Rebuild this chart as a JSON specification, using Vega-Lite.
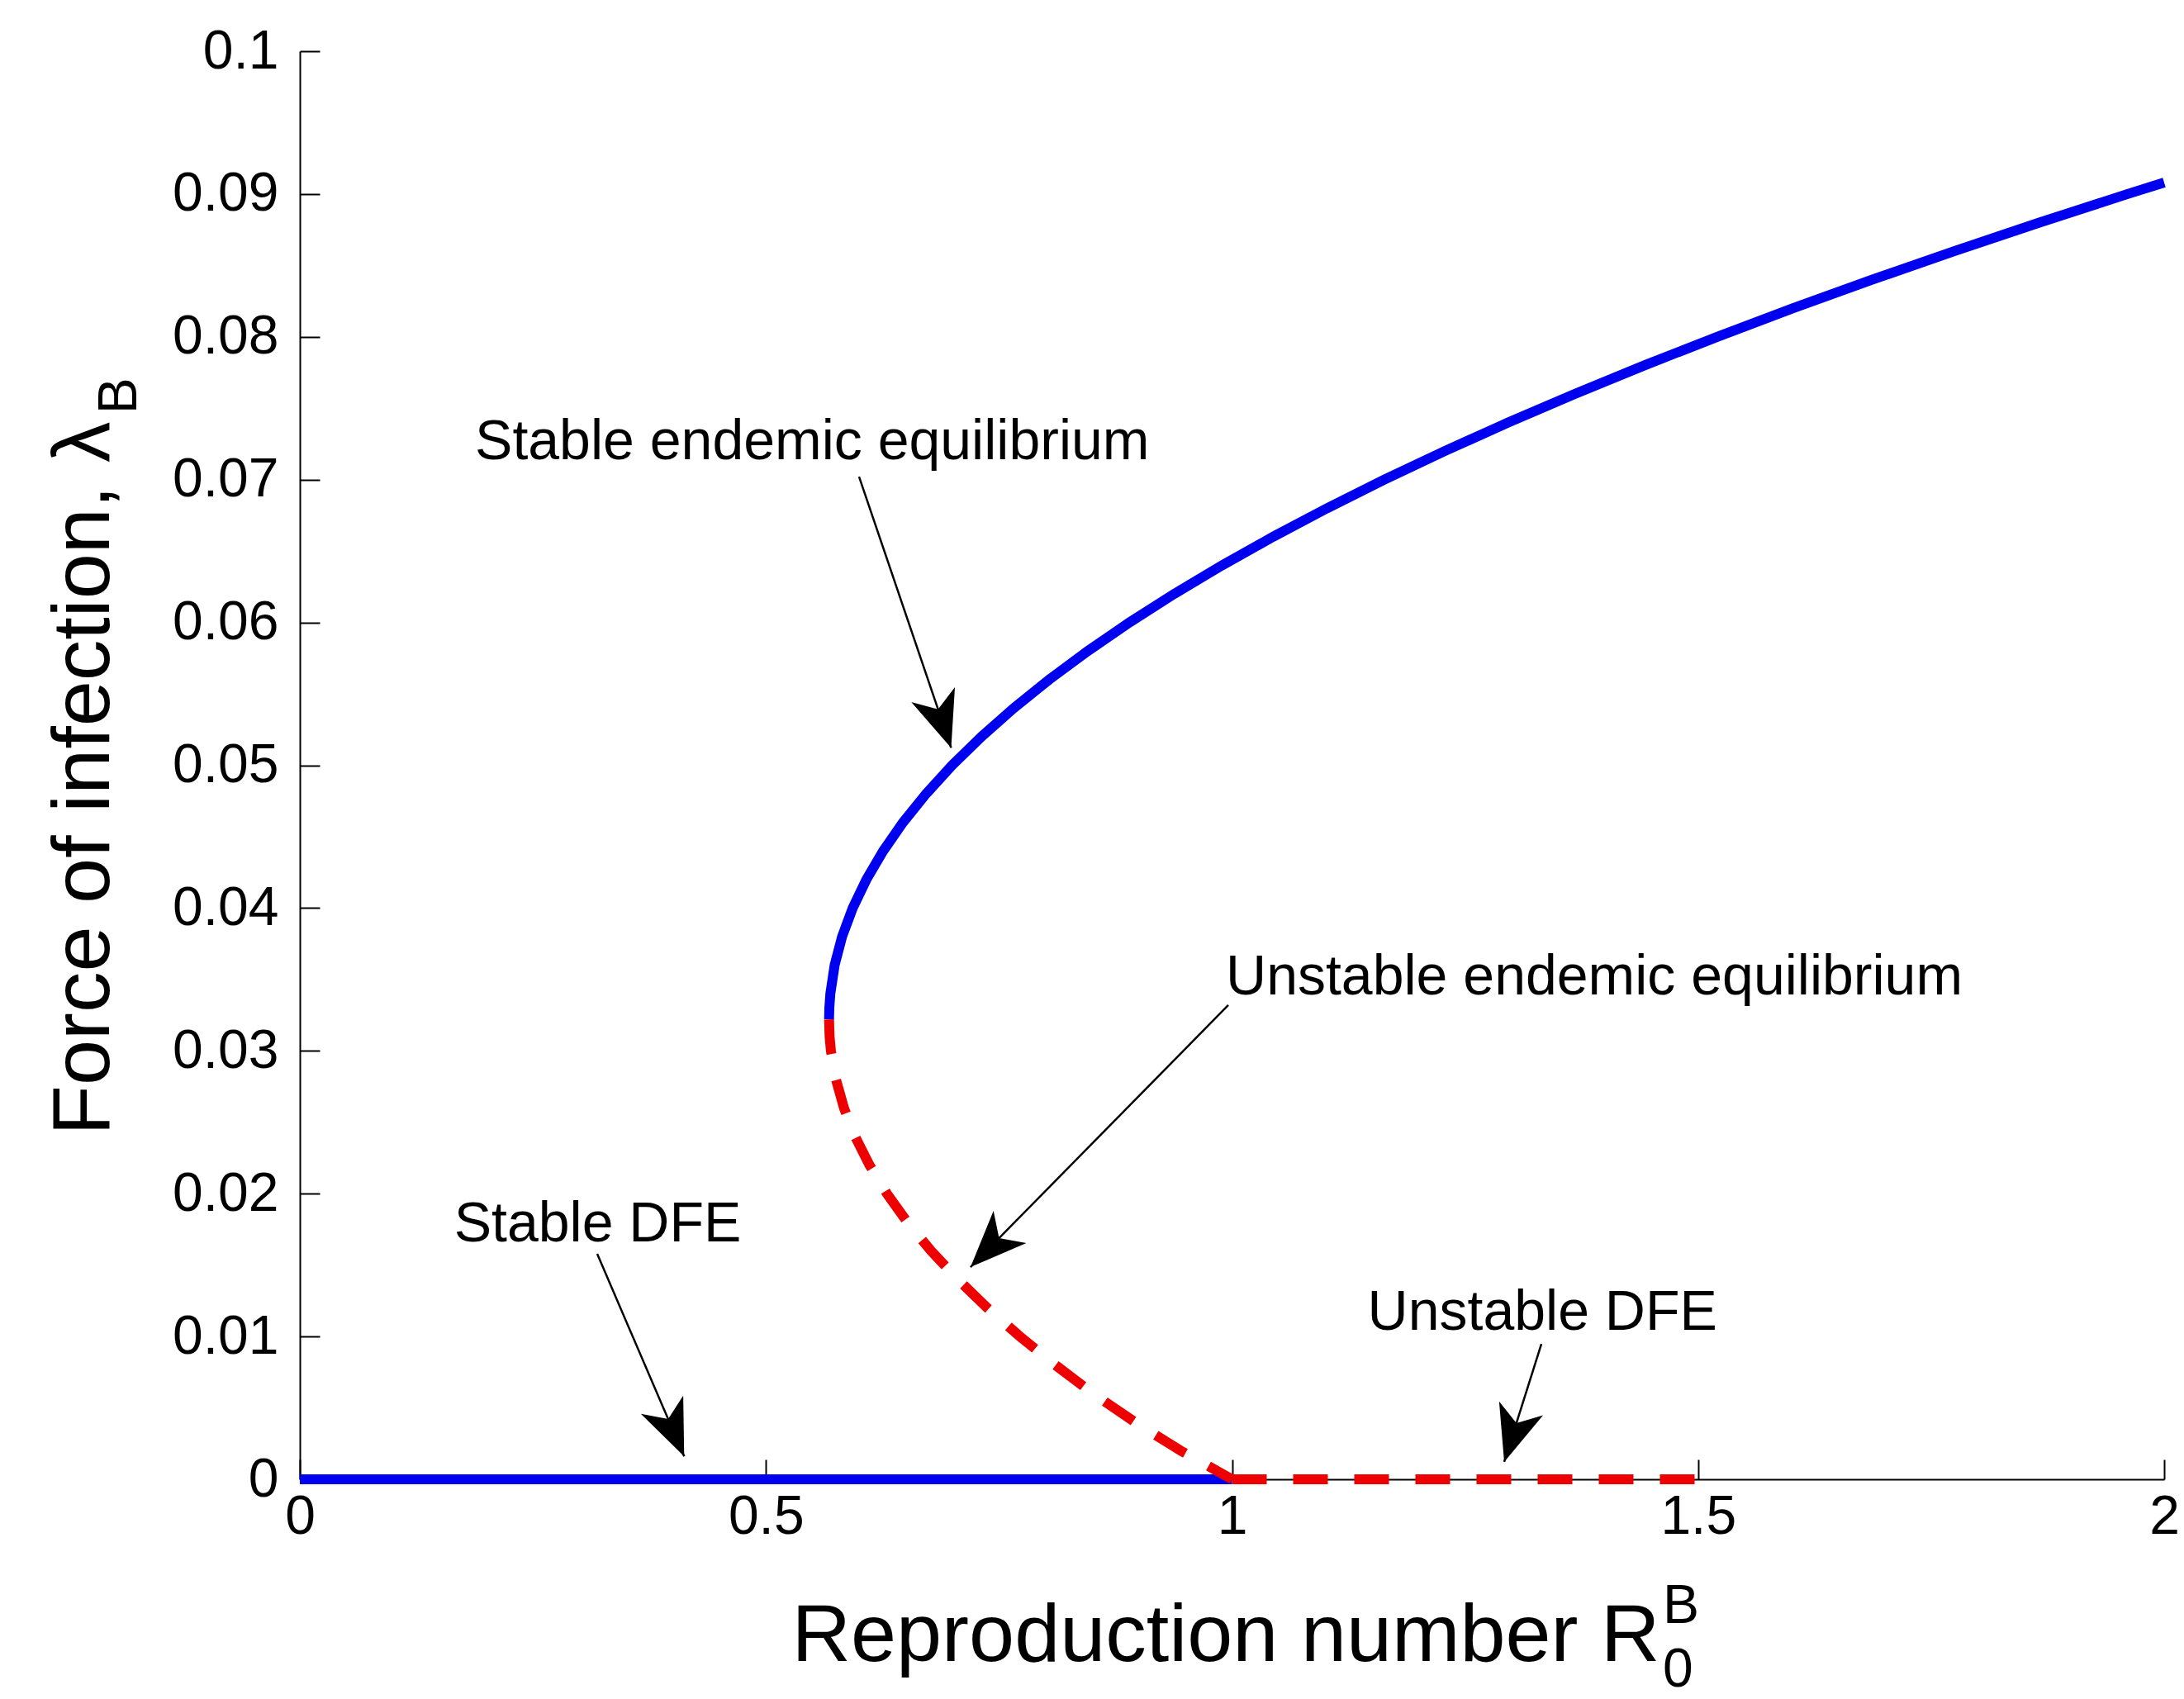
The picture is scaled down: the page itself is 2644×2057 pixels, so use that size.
{
  "$schema": "https://vega.github.io/schema/vega-lite/v6.json",
  "width": 2257,
  "height": 1729,
  "autosize": {"type": "none"},
  "padding": {"left": 363, "top": 62, "right": 24, "bottom": 266},
  "background": "white",
  "config": {"view": {"stroke": null}, "font": "Liberation Sans"},
  "datasets": {
    "curves": [
      {"branch": "dfe_s", "stab": "stable", "i": 0, "r": 0, "lam": 0},
      {"branch": "dfe_s", "stab": "stable", "i": 1, "r": 1, "lam": 0},
      {"branch": "dfe_u", "stab": "unstable", "i": 0, "r": 1, "lam": 0},
      {"branch": "dfe_u", "stab": "unstable", "i": 1, "r": 1.5, "lam": 0},
      {"branch": "ee_u", "stab": "unstable", "i": 0, "r": 0.5677, "lam": 0.0322},
      {"branch": "ee_u", "stab": "unstable", "i": 1, "r": 0.5683, "lam": 0.031},
      {"branch": "ee_u", "stab": "unstable", "i": 2, "r": 0.5697, "lam": 0.03},
      {"branch": "ee_u", "stab": "unstable", "i": 3, "r": 0.5751, "lam": 0.028},
      {"branch": "ee_u", "stab": "unstable", "i": 4, "r": 0.5837, "lam": 0.026},
      {"branch": "ee_u", "stab": "unstable", "i": 5, "r": 0.5957, "lam": 0.024},
      {"branch": "ee_u", "stab": "unstable", "i": 6, "r": 0.6111, "lam": 0.022},
      {"branch": "ee_u", "stab": "unstable", "i": 7, "r": 0.6298, "lam": 0.02},
      {"branch": "ee_u", "stab": "unstable", "i": 8, "r": 0.6518, "lam": 0.018},
      {"branch": "ee_u", "stab": "unstable", "i": 9, "r": 0.6771, "lam": 0.016},
      {"branch": "ee_u", "stab": "unstable", "i": 10, "r": 0.7058, "lam": 0.014},
      {"branch": "ee_u", "stab": "unstable", "i": 11, "r": 0.7375, "lam": 0.012},
      {"branch": "ee_u", "stab": "unstable", "i": 12, "r": 0.7725, "lam": 0.01},
      {"branch": "ee_u", "stab": "unstable", "i": 13, "r": 0.8105, "lam": 0.008},
      {"branch": "ee_u", "stab": "unstable", "i": 14, "r": 0.851, "lam": 0.006},
      {"branch": "ee_u", "stab": "unstable", "i": 15, "r": 0.896, "lam": 0.004},
      {"branch": "ee_u", "stab": "unstable", "i": 16, "r": 0.945, "lam": 0.002},
      {"branch": "ee_u", "stab": "unstable", "i": 17, "r": 1.0, "lam": 0},
      {"branch": "ee_s", "stab": "stable", "i": 0, "r": 0.5677, "lam": 0.0322},
      {"branch": "ee_s", "stab": "stable", "i": 1, "r": 0.568, "lam": 0.033},
      {"branch": "ee_s", "stab": "stable", "i": 2, "r": 0.5691, "lam": 0.034},
      {"branch": "ee_s", "stab": "stable", "i": 3, "r": 0.5737, "lam": 0.036},
      {"branch": "ee_s", "stab": "stable", "i": 4, "r": 0.5817, "lam": 0.038},
      {"branch": "ee_s", "stab": "stable", "i": 5, "r": 0.5931, "lam": 0.04},
      {"branch": "ee_s", "stab": "stable", "i": 6, "r": 0.6078, "lam": 0.042},
      {"branch": "ee_s", "stab": "stable", "i": 7, "r": 0.6258, "lam": 0.044},
      {"branch": "ee_s", "stab": "stable", "i": 8, "r": 0.6471, "lam": 0.046},
      {"branch": "ee_s", "stab": "stable", "i": 9, "r": 0.6718, "lam": 0.048},
      {"branch": "ee_s", "stab": "stable", "i": 10, "r": 0.6998, "lam": 0.05},
      {"branch": "ee_s", "stab": "stable", "i": 11, "r": 0.7312, "lam": 0.052},
      {"branch": "ee_s", "stab": "stable", "i": 12, "r": 0.7659, "lam": 0.054},
      {"branch": "ee_s", "stab": "stable", "i": 13, "r": 0.8039, "lam": 0.056},
      {"branch": "ee_s", "stab": "stable", "i": 14, "r": 0.8453, "lam": 0.058},
      {"branch": "ee_s", "stab": "stable", "i": 15, "r": 0.89, "lam": 0.06},
      {"branch": "ee_s", "stab": "stable", "i": 16, "r": 0.938, "lam": 0.062},
      {"branch": "ee_s", "stab": "stable", "i": 17, "r": 0.9894, "lam": 0.064},
      {"branch": "ee_s", "stab": "stable", "i": 18, "r": 1.0441, "lam": 0.066},
      {"branch": "ee_s", "stab": "stable", "i": 19, "r": 1.1021, "lam": 0.068},
      {"branch": "ee_s", "stab": "stable", "i": 20, "r": 1.1635, "lam": 0.07},
      {"branch": "ee_s", "stab": "stable", "i": 21, "r": 1.2282, "lam": 0.072},
      {"branch": "ee_s", "stab": "stable", "i": 22, "r": 1.2963, "lam": 0.074},
      {"branch": "ee_s", "stab": "stable", "i": 23, "r": 1.3677, "lam": 0.076},
      {"branch": "ee_s", "stab": "stable", "i": 24, "r": 1.4424, "lam": 0.078},
      {"branch": "ee_s", "stab": "stable", "i": 25, "r": 1.5205, "lam": 0.08},
      {"branch": "ee_s", "stab": "stable", "i": 26, "r": 1.6019, "lam": 0.082},
      {"branch": "ee_s", "stab": "stable", "i": 27, "r": 1.6866, "lam": 0.084},
      {"branch": "ee_s", "stab": "stable", "i": 28, "r": 1.7747, "lam": 0.086},
      {"branch": "ee_s", "stab": "stable", "i": 29, "r": 1.8661, "lam": 0.088},
      {"branch": "ee_s", "stab": "stable", "i": 30, "r": 1.9608, "lam": 0.09},
      {"branch": "ee_s", "stab": "stable", "i": 31, "r": 2.0, "lam": 0.0908}
    ],
    "arrows": [
      {"id": "see", "r": 0.5999, "lam": 0.07021, "r2": 0.6987, "lam2": 0.05122},
      {"id": "uee", "r": 0.996, "lam": 0.0332, "r2": 0.7195, "lam2": 0.01486},
      {"id": "sdfe", "r": 0.319, "lam": 0.01579, "r2": 0.4123, "lam2": 0.0016},
      {"id": "udfe", "r": 1.3319, "lam": 0.009485, "r2": 1.292, "lam2": 0.001215}
    ],
    "heads": [
      {"id": "see", "r": 0.6987, "lam": 0.05122},
      {"id": "uee", "r": 0.7195, "lam": 0.01486},
      {"id": "sdfe", "r": 0.4123, "lam": 0.0016},
      {"id": "udfe", "r": 1.292, "lam": 0.001215}
    ],
    "labels": [
      {"label": "Stable endemic equilibrium", "r": 0.1879, "lam": 0.0726},
      {"label": "Unstable endemic equilibrium", "r": 0.9934, "lam": 0.0351},
      {"label": "Stable DFE", "r": 0.1654, "lam": 0.0178},
      {"label": "Unstable DFE", "r": 1.1454, "lam": 0.0116}
    ],
    "scripts": [
      {"label": "B", "r": 1.4621, "lam": -0.01006},
      {"label": "0", "r": 1.4621, "lam": -0.01452}
    ],
    "yscript": [
      {"label": "B", "r": -0.1755, "lam": 0.0746}
    ]
  },
  "encoding": {
    "x": {
      "field": "r", "type": "quantitative",
      "scale": {"domain": [0, 2], "nice": false, "zero": false},
      "axis": {
        "values": [0, 0.5, 1, 1.5, 2], "format": "~g",
        "title": "Reproduction number R",
        "titleFont": "Liberation Sans", "titleFontSize": 99, "titleFontWeight": "normal", "titleColor": "black",
        "titleAlign": "left", "titleAnchor": "start", "titleX": 595, "titleY": 219, "titleBaseline": "alphabetic",
        "labelFont": "Liberation Sans", "labelFontSize": 66, "labelColor": "black", "labelPadding": 37,
        "labelFlush": false, "labelOverlap": false,
        "tickSize": -24, "tickColor": "black", "tickWidth": 2,
        "domainColor": "black", "domainWidth": 2, "grid": false
      }
    },
    "y": {
      "field": "lam", "type": "quantitative",
      "scale": {"domain": [0, 0.1], "nice": false, "zero": false},
      "axis": {
        "values": [0, 0.01, 0.02, 0.03, 0.04, 0.05, 0.06, 0.07, 0.08, 0.09, 0.1], "format": "~g",
        "title": "Force of infection, λ",
        "titleFont": "Liberation Sans", "titleFontSize": 99, "titleFontWeight": "normal", "titleColor": "black",
        "titleAngle": 270, "titleAlign": "left", "titleAnchor": "start", "titleX": -232, "titleY": 1312, "titleBaseline": "alphabetic",
        "labelFont": "Liberation Sans", "labelFontSize": 66, "labelColor": "black", "labelPadding": 50,
        "labelFlush": false, "labelOverlap": false,
        "tickSize": -24, "tickColor": "black", "tickWidth": 2,
        "domainColor": "black", "domainWidth": 2, "grid": false
      }
    }
  },
  "layer": [
    {
      "data": {"name": "curves"},
      "transform": [{"filter": "datum.stab === 'stable'"}],
      "mark": {"type": "line", "color": "#0000f0", "strokeWidth": 12, "strokeCap": "butt"},
      "encoding": {"detail": {"field": "branch"}, "order": {"field": "i", "type": "quantitative"}}
    },
    {
      "data": {"name": "curves"},
      "transform": [{"filter": "datum.stab === 'unstable'"}],
      "mark": {"type": "line", "color": "#ee0000", "strokeWidth": 12, "strokeCap": "butt", "strokeDash": [42, 32]},
      "encoding": {"detail": {"field": "branch"}, "order": {"field": "i", "type": "quantitative"}}
    },
    {
      "data": {"name": "arrows"},
      "mark": {"type": "rule", "color": "black", "strokeWidth": 2.5},
      "encoding": {"x2": {"field": "r2"}, "y2": {"field": "lam2"}}
    },
    {
      "data": {"name": "heads"},
      "transform": [{"filter": "datum.id === 'see'"}],
      "mark": {"type": "point", "shape": "M0,0L-0.82,-2L0,-1.45L0.82,-2Z", "filled": true, "color": "black", "opacity": 1, "size": 4624, "angle": 341.25, "strokeWidth": 0}
    },
    {
      "data": {"name": "heads"},
      "transform": [{"filter": "datum.id === 'uee'"}],
      "mark": {"type": "point", "shape": "M0,0L-0.82,-2L0,-1.45L0.82,-2Z", "filled": true, "color": "black", "opacity": 1, "size": 4624, "angle": 44.5, "strokeWidth": 0}
    },
    {
      "data": {"name": "heads"},
      "transform": [{"filter": "datum.id === 'sdfe'"}],
      "mark": {"type": "point", "shape": "M0,0L-0.82,-2L0,-1.45L0.82,-2Z", "filled": true, "color": "black", "opacity": 1, "size": 4624, "angle": 336.8, "strokeWidth": 0}
    },
    {
      "data": {"name": "heads"},
      "transform": [{"filter": "datum.id === 'udfe'"}],
      "mark": {"type": "point", "shape": "M0,0L-0.82,-2L0,-1.45L0.82,-2Z", "filled": true, "color": "black", "opacity": 1, "size": 4624, "angle": 17.5, "strokeWidth": 0}
    },
    {
      "data": {"name": "labels"},
      "mark": {"type": "text", "align": "left", "baseline": "middle", "font": "Liberation Sans", "fontSize": 68, "color": "black"},
      "encoding": {"text": {"field": "label"}}
    },
    {
      "data": {"name": "scripts"},
      "mark": {"type": "text", "align": "left", "baseline": "alphabetic", "font": "Liberation Sans", "fontSize": 66, "color": "black"},
      "encoding": {"text": {"field": "label"}}
    },
    {
      "data": {"name": "yscript"},
      "mark": {"type": "text", "align": "left", "baseline": "alphabetic", "font": "Liberation Sans", "fontSize": 66, "color": "black", "angle": 270},
      "encoding": {"text": {"field": "label"}}
    }
  ]
}
